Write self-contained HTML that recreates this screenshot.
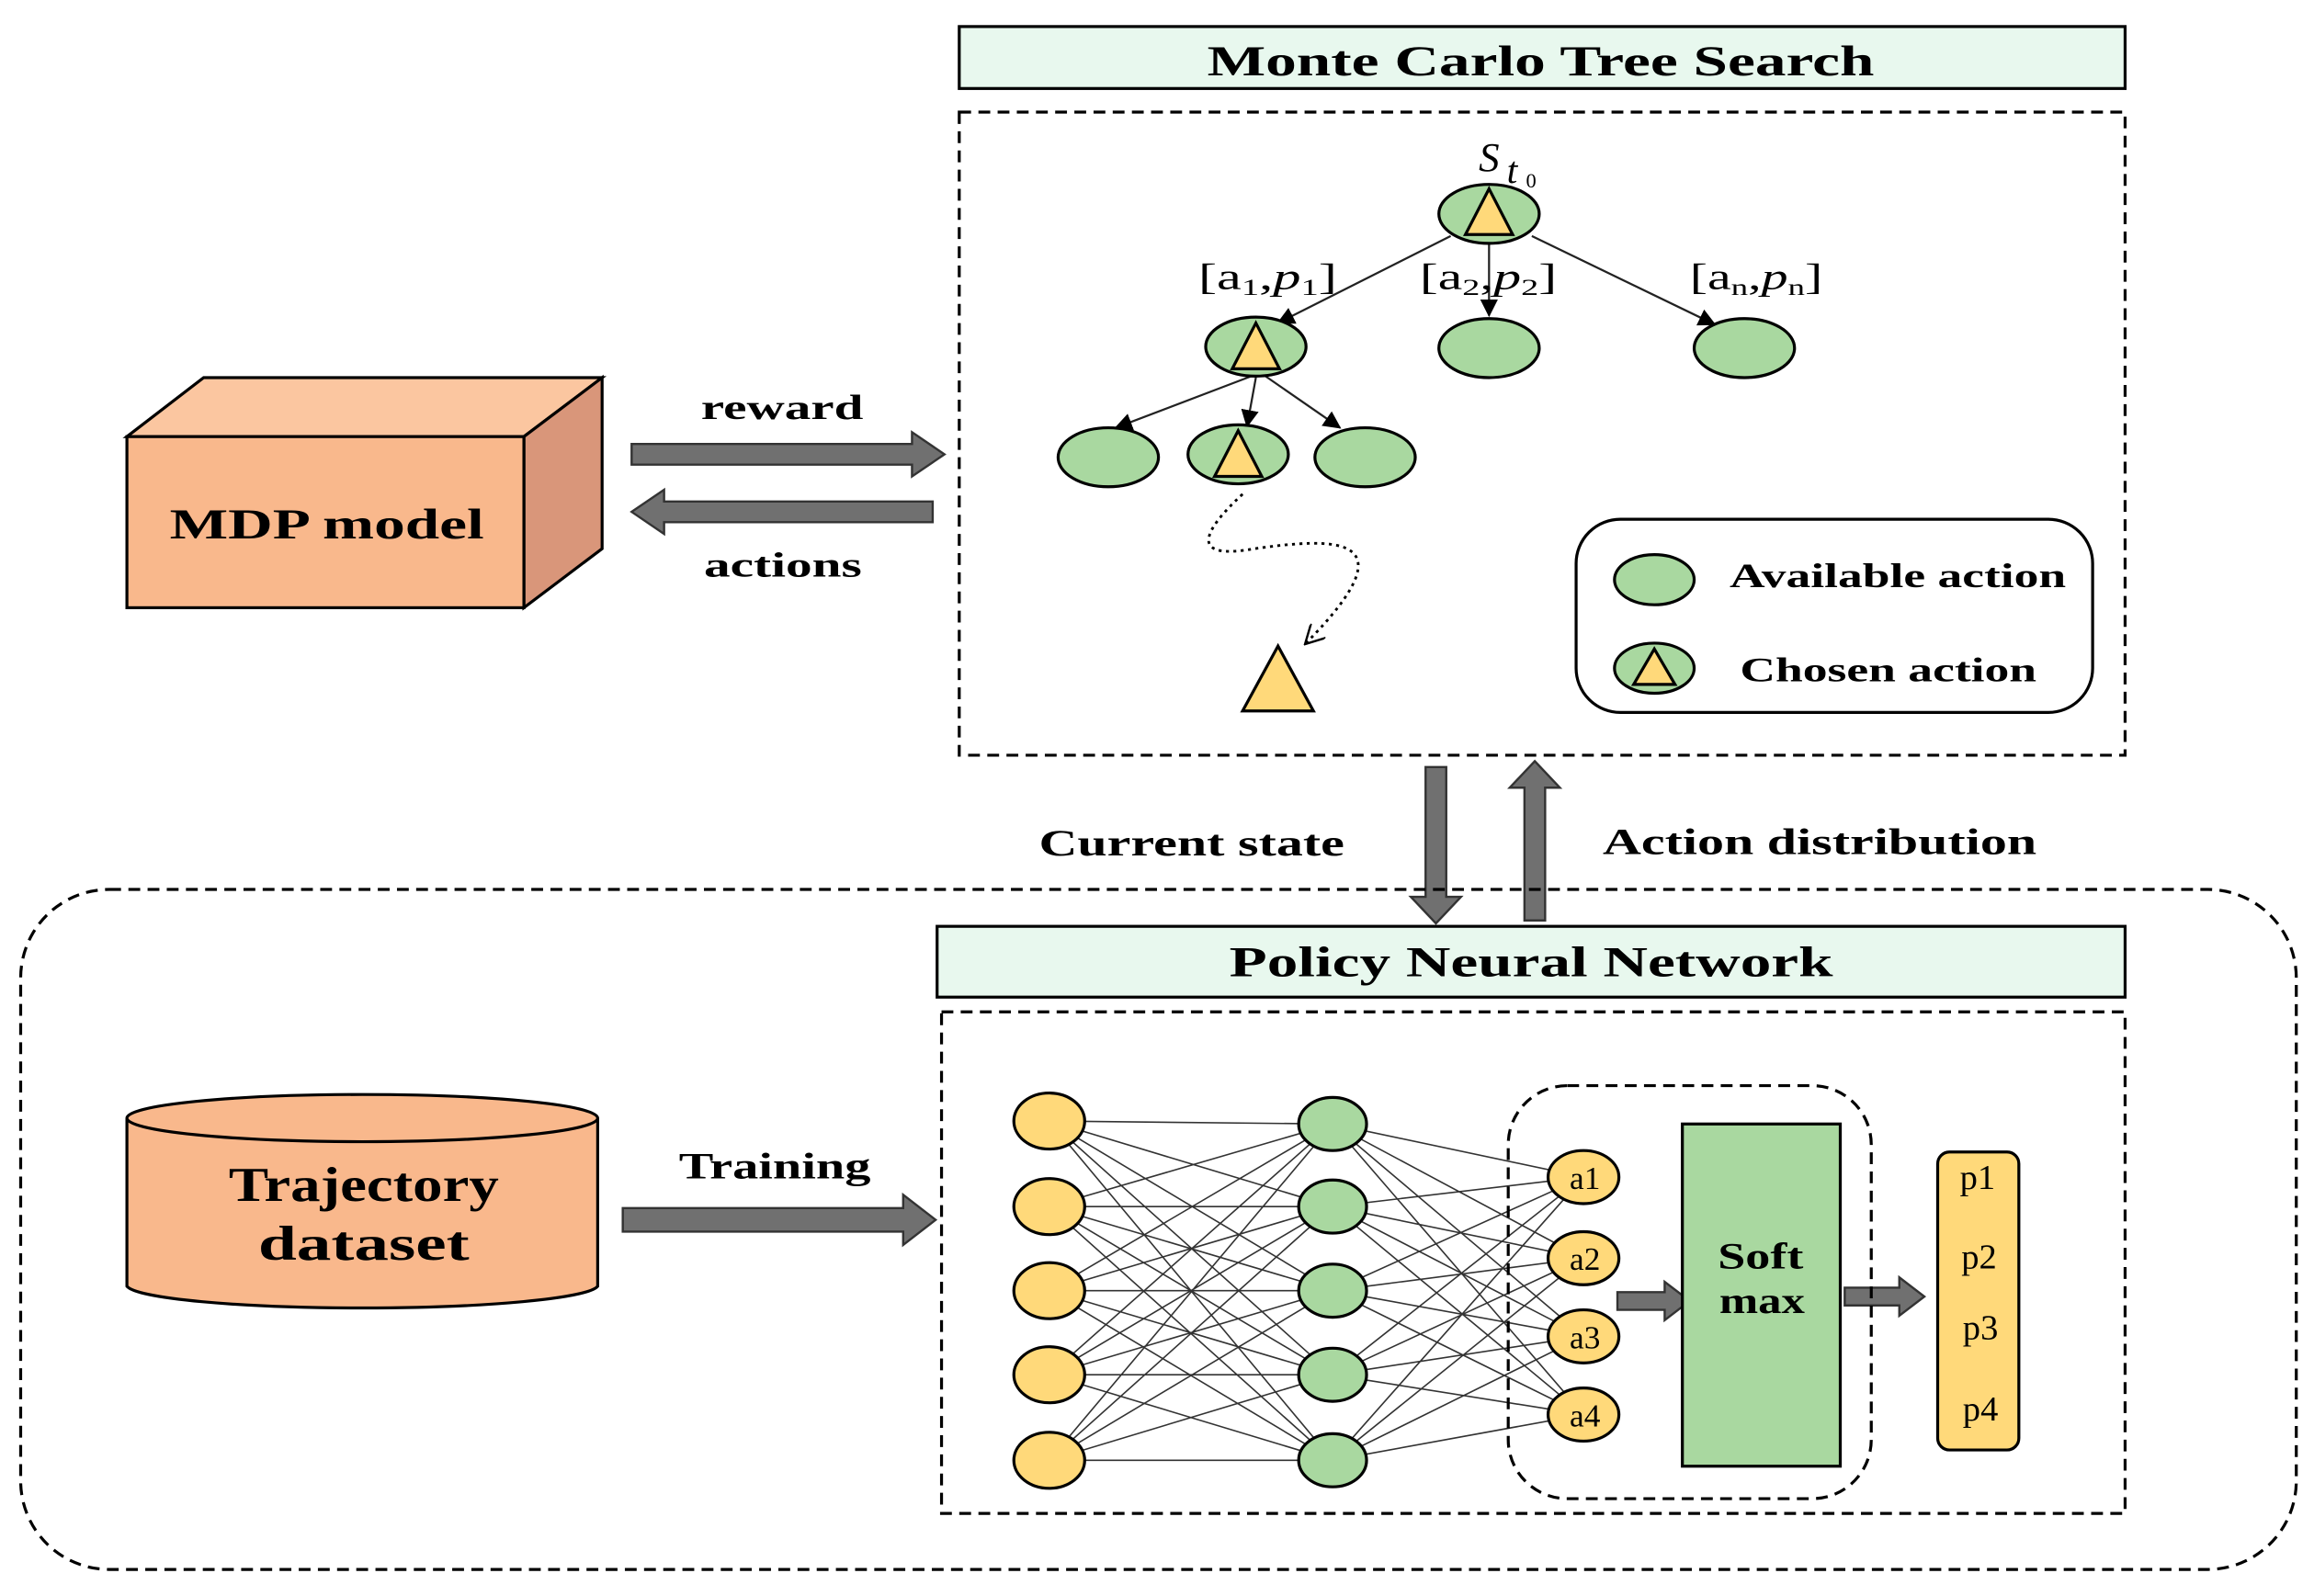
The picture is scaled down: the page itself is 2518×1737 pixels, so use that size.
<!DOCTYPE html>
<html><head><meta charset="utf-8"><style>
html,body{margin:0;padding:0;background:#fff;}
svg{display:block;}
text{font-family:"Liberation Serif",serif;font-weight:bold;fill:#000;}
.m{font-family:"Liberation Serif",serif;font-weight:normal;}
</style></head><body>
<svg width="2518" height="1737" viewBox="0 0 1568 1082" preserveAspectRatio="none" xmlns="http://www.w3.org/2000/svg">
<defs>
<marker id="ah" markerWidth="12" markerHeight="12" refX="11" refY="6" orient="auto" markerUnits="userSpaceOnUse"><path d="M0,0 L12,6 L0,12 z" fill="#000"/></marker>
<marker id="ah2" markerWidth="14" markerHeight="14" refX="12" refY="7" orient="auto" markerUnits="userSpaceOnUse"><path d="M0,0 L13,7 L0,14" fill="none" stroke="#000" stroke-width="1.5"/></marker>
</defs>
<!-- MCTS -->
<rect x="650" y="18" width="790" height="42" fill="#e8f8ee" stroke="#000" stroke-width="2"/>
<text x="818" y="51" font-size="29" textLength="452" lengthAdjust="spacingAndGlyphs">Monte Carlo Tree Search</text>
<rect x="650" y="76" width="790" height="436" fill="none" stroke="#000" stroke-width="2" stroke-dasharray="8,5"/>
<g stroke="#222" stroke-width="1.4" marker-end="url(#ah)">
<line x1="983" y1="160" x2="866" y2="219"/>
<line x1="1009" y1="165" x2="1009" y2="214"/>
<line x1="1038" y1="160" x2="1162" y2="220"/>
<line x1="848" y1="255" x2="756" y2="290"/>
<line x1="851" y1="256" x2="845" y2="289"/>
<line x1="856" y1="254" x2="908" y2="290"/>
</g>
<g fill="#a9d8a0" stroke="#000" stroke-width="2">
<ellipse cx="1009" cy="145" rx="34" ry="20"/>
<ellipse cx="851" cy="235" rx="34" ry="20"/>
<ellipse cx="1009" cy="236" rx="34" ry="20"/>
<ellipse cx="1182" cy="236" rx="34" ry="20"/>
<ellipse cx="751" cy="310" rx="34" ry="20"/>
<ellipse cx="839" cy="308" rx="34" ry="20"/>
<ellipse cx="925" cy="310" rx="34" ry="20"/>
<ellipse cx="1121" cy="393" rx="27" ry="17"/>
<ellipse cx="1121" cy="453" rx="27" ry="17"/>
</g>
<g fill="#ffd97a" stroke="#000" stroke-width="2">
<path d="M1009,128 L993,159 L1025,159 Z"/>
<path d="M851,219 L835,250 L867,250 Z"/>
<path d="M839,292 L823,323 L855,323 Z"/>
<path d="M1121,440 L1107,464 L1135,464 Z"/>
<path d="M866,438 L842,482 L890,482 Z"/>
</g>
<text class="m" x="1002" y="116" font-size="28" font-style="italic">S</text>
<text class="m" x="1021" y="124" font-size="26" font-style="italic">t</text>
<text class="m" x="1034" y="127" font-size="14">0</text>
<text class="m" x="812" y="196" font-size="25" textLength="94" lengthAdjust="spacingAndGlyphs">[a<tspan font-size="16" dy="4">1</tspan><tspan dy="-4">,</tspan><tspan font-style="italic">p</tspan><tspan font-size="16" dy="4">1</tspan><tspan dy="-4">]</tspan></text>
<text class="m" x="962" y="196" font-size="25" textLength="93" lengthAdjust="spacingAndGlyphs">[a<tspan font-size="16" dy="4">2</tspan><tspan dy="-4">,</tspan><tspan font-style="italic">p</tspan><tspan font-size="16" dy="4">2</tspan><tspan dy="-4">]</tspan></text>
<text class="m" x="1145" y="196" font-size="25" textLength="90" lengthAdjust="spacingAndGlyphs">[a<tspan font-size="16" dy="4">n</tspan><tspan dy="-4">,</tspan><tspan font-style="italic">p</tspan><tspan font-size="16" dy="4">n</tspan><tspan dy="-4">]</tspan></text>
<path d="M842,335 C815,360 805,380 850,372 C900,365 960,360 885,436" fill="none" stroke="#000" stroke-width="1.8" stroke-dasharray="2,3" marker-end="url(#ah2)"/>
<rect x="1068" y="352" width="350" height="131" rx="30" fill="none" stroke="#000" stroke-width="2"/>
<text x="1172" y="398" font-size="23" textLength="228" lengthAdjust="spacingAndGlyphs">Available action</text>
<text x="1179" y="462" font-size="23" textLength="201" lengthAdjust="spacingAndGlyphs">Chosen action</text>
<!-- MDP -->
<path d="M86,296 L138,256 L408,256 L355,296 Z" fill="#fbc6a0" stroke="#000" stroke-width="2"/>
<path d="M355,296 L408,256 L408,372 L355,412 Z" fill="#d9967a" stroke="#000" stroke-width="2"/>
<rect x="86" y="296" width="269" height="116" fill="#f9b88c" stroke="#000" stroke-width="2"/>
<text x="115" y="365" font-size="29" textLength="213" lengthAdjust="spacingAndGlyphs">MDP model</text>
<g fill="#707070" stroke="#333" stroke-width="1.5">
<path d="M428,301 L618,301 L618,293 L640,308 L618,323 L618,315 L428,315 Z"/>
<path d="M632,340 L450,340 L450,332 L428,347 L450,362 L450,354 L632,354 Z"/>
<path d="M966,520 L980,520 L980,608 L990,608 L973,626 L956,608 L966,608 Z"/>
<path d="M1033,624 L1047,624 L1047,534 L1057,534 L1040,516 L1023,534 L1033,534 Z"/>
<path d="M422,819 L612,819 L612,810 L634,827 L612,844 L612,835 L422,835 Z"/>
<path d="M1096,876 L1128,876 L1128,869 L1145,882 L1128,895 L1128,888 L1096,888 Z"/>
<path d="M1250,873 L1287,873 L1287,866 L1304,879 L1287,892 L1287,885 L1250,885 Z"/>
</g>
<text x="475" y="284" font-size="24" textLength="110" lengthAdjust="spacingAndGlyphs">reward</text>
<text x="477" y="391" font-size="24" textLength="107" lengthAdjust="spacingAndGlyphs">actions</text>
<text x="704" y="580" font-size="25" textLength="207" lengthAdjust="spacingAndGlyphs">Current state</text>
<text x="1086" y="579" font-size="25" textLength="294" lengthAdjust="spacingAndGlyphs">Action distribution</text>
<text x="460" y="799" font-size="25" textLength="130" lengthAdjust="spacingAndGlyphs">Training</text>
<!-- bottom -->
<rect x="14" y="603" width="1542" height="461" rx="60" fill="none" stroke="#000" stroke-width="2" stroke-dasharray="8,5"/>
<rect x="635" y="628" width="805" height="48" fill="#e8f8ee" stroke="#000" stroke-width="2"/>
<text x="833" y="662" font-size="29" textLength="409" lengthAdjust="spacingAndGlyphs">Policy Neural Network</text>
<rect x="638" y="686" width="802" height="340" fill="none" stroke="#000" stroke-width="2" stroke-dasharray="8,5"/>
<!-- cylinder -->
<path d="M86,758 L86,872 A160,16 0 0 0 405,872 L405,758" fill="#f9b88c" stroke="#000" stroke-width="2"/>
<ellipse cx="245.5" cy="758" rx="159.5" ry="16" fill="#f9b88c" stroke="#000" stroke-width="2"/>
<text x="155" y="814" font-size="33" textLength="183" lengthAdjust="spacingAndGlyphs">Trajectory</text>
<text x="175" y="854" font-size="33" textLength="143" lengthAdjust="spacingAndGlyphs">dataset</text>
<!-- network -->
<g stroke="#333" stroke-width="1">
<path d="M711,760L903,762M711,760L903,818M711,760L903,875M711,760L903,932M711,760L903,990
M711,818L903,762M711,818L903,818M711,818L903,875M711,818L903,932M711,818L903,990
M711,875L903,762M711,875L903,818M711,875L903,875M711,875L903,932M711,875L903,990
M711,932L903,762M711,932L903,818M711,932L903,875M711,932L903,932M711,932L903,990
M711,990L903,762M711,990L903,818M711,990L903,875M711,990L903,932M711,990L903,990
M903,762L1073,798M903,762L1073,853M903,762L1073,906M903,762L1073,959
M903,818L1073,798M903,818L1073,853M903,818L1073,906M903,818L1073,959
M903,875L1073,798M903,875L1073,853M903,875L1073,906M903,875L1073,959
M903,932L1073,798M903,932L1073,853M903,932L1073,906M903,932L1073,959
M903,990L1073,798M903,990L1073,853M903,990L1073,906M903,990L1073,959"/>
</g>
<g fill="#ffd97a" stroke="#000" stroke-width="2">
<ellipse cx="711" cy="760" rx="24" ry="19"/><ellipse cx="711" cy="818" rx="24" ry="19"/><ellipse cx="711" cy="875" rx="24" ry="19"/><ellipse cx="711" cy="932" rx="24" ry="19"/><ellipse cx="711" cy="990" rx="24" ry="19"/>
</g>
<g fill="#a9d8a0" stroke="#000" stroke-width="2">
<ellipse cx="903" cy="762" rx="23" ry="18"/><ellipse cx="903" cy="818" rx="23" ry="18"/><ellipse cx="903" cy="875" rx="23" ry="18"/><ellipse cx="903" cy="932" rx="23" ry="18"/><ellipse cx="903" cy="990" rx="23" ry="18"/>
</g>
<rect x="1022" y="736" width="246" height="280" rx="40" fill="none" stroke="#000" stroke-width="2" stroke-dasharray="8,5"/>
<g fill="#ffd97a" stroke="#000" stroke-width="2">
<ellipse cx="1073" cy="798" rx="24" ry="18"/><ellipse cx="1073" cy="853" rx="24" ry="18"/><ellipse cx="1073" cy="906" rx="24" ry="18"/><ellipse cx="1073" cy="959" rx="24" ry="18"/>
</g>
<g font-size="22" text-anchor="middle">
<text class="m" x="1074" y="806">a1</text><text class="m" x="1074" y="861">a2</text><text class="m" x="1074" y="914">a3</text><text class="m" x="1074" y="967">a4</text>
</g>
<rect x="1140" y="762" width="107" height="232" fill="#a9d8a0" stroke="#000" stroke-width="2"/>
<text x="1164" y="860" font-size="25" textLength="58" lengthAdjust="spacingAndGlyphs">Soft</text>
<text x="1165" y="890" font-size="25" textLength="58" lengthAdjust="spacingAndGlyphs">max</text>
<rect x="1313" y="781" width="55" height="202" rx="8" fill="#ffd97a" stroke="#000" stroke-width="2"/>
<g font-size="24" text-anchor="middle">
<text class="m" x="1340" y="806">p1</text><text class="m" x="1341" y="860">p2</text><text class="m" x="1342" y="908">p3</text><text class="m" x="1342" y="963">p4</text>
</g>
</svg>
</body></html>
